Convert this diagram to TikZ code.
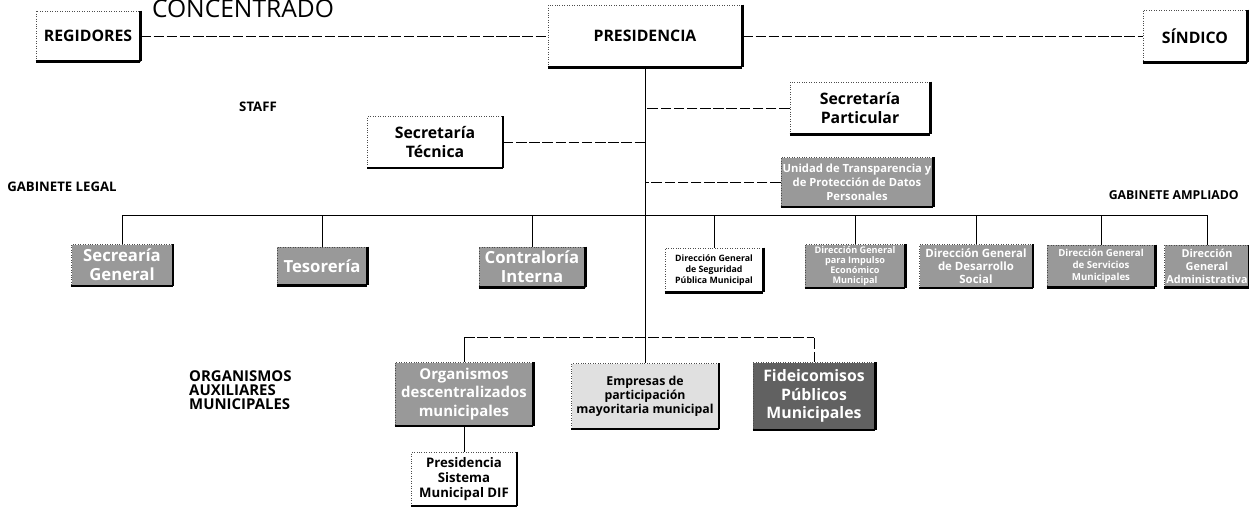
\documentclass[tikz,border=0pt]{standalone}
\usepackage{fontspec}
\setmainfont{Open Sans}
\newcommand{\fsz}[2]{\fontsize{#1}{#2}\selectfont}

\tikzset{
  sz/.style 2 args={minimum width=#1*0.02cm, minimum height=#2*0.02cm},
  orgbox/.style={draw=black!70, densely dotted, inner sep=1pt, align=center,
    font=\bfseries\fsz{9}{11},
    append after command={
      (\tikzlastnode.north east) edge[solid, line width=1.4pt] (\tikzlastnode.south east)
      (\tikzlastnode.south west) edge[solid, line width=1.4pt] (\tikzlastnode.south east)}},
  shadedbox/.style={orgbox, fill=black!40, text=white},
  lightbox/.style={orgbox, fill=black!12},
  tag/.style={font=\bfseries\fsz{7.5}{8.5}},
  linkline/.style={thin, dash pattern=on 6pt off 1.5pt},
  trunkline/.style={thin}
}

\begin{document}
\begin{tikzpicture}[x=0.02cm, y=-0.02cm]
  \useasboundingbox (0,0) rectangle (1249,507);
  \clip (0,0) rectangle (1249,507);

  % Top row
  \node[orgbox, sz={104}{50}] (regidores) at (88,36) {REGIDORES};
  \node[orgbox, sz={194}{62}] (presidencia) at (645,36) {PRESIDENCIA};
  \node[orgbox, sz={104}{52}] (sindico) at (1195,36) {SÍNDICO};
  \node[font=\fsz{14}{14}] (concentrado) at (243,9) {CONCENTRADO};

  \draw[linkline] (regidores.east) -- (presidencia.west);
  \draw[linkline] (presidencia.east) -- (sindico.west);

  % Staff
  \node[tag] (staff) at (258,107) {STAFF};
  \node[orgbox, sz={135}{51}] (stecnica) at (435,142) {Secretaría\\Técnica};
  \node[orgbox, sz={140}{52}] (sparticular) at (860,108) {Secretaría\\Particular};
  \node[shadedbox, sz={151}{49}, font=\bfseries\fsz{6.4}{8}] (unidad) at (857,182)
    {Unidad de Transparencia y\\de Protección de Datos\\Personales};

  % Gabinete legal and gabinete ampliado
  \node[tag] (gablegal) at (62,187) {GABINETE LEGAL};
  \node[tag, font=\bfseries\fsz{7}{8}, anchor=east] (gabampliado) at (1245,195) {GABINETE AMPLIADO};
  \node[shadedbox, sz={101}{41}, font=\bfseries\fsz{9.5}{11}] (sgeneral) at (122,265) {Secrearía\\General};
  \node[shadedbox, sz={90}{38}, font=\bfseries\fsz{9.5}{11}] (tesoreria) at (322,266) {Tesorería};
  \node[shadedbox, sz={106}{40}, font=\bfseries\fsz{9.5}{11}] (contraloria) at (532,267) {Contraloría\\Interna};
  \node[orgbox, sz={98}{44}, font=\bfseries\fsz{5}{6.2}] (dgseguridad) at (714,270)
    {Dirección General\\de Seguridad\\Pública Municipal};
  \node[shadedbox, sz={100}{43}, font=\bfseries\fsz{5.2}{5.7}] (dgimpulso) at (855,266)
    {Dirección General\\para Impulso\\Económico\\Municipal};
  \node[shadedbox, sz={113}{43}, font=\bfseries\fsz{6.5}{7.4}] (dgsocial) at (976,266)
    {Dirección General\\de Desarrollo\\Social};
  \node[shadedbox, sz={108}{42}, font=\bfseries\fsz{5.5}{6.8}] (dgservicios) at (1101,266)
    {Dirección General\\de Servicios\\Municipales};
  \node[shadedbox, sz={80}{42}, font=\bfseries\fsz{6.2}{7.4}] (dgadmin) at (1207,266)
    {Dirección\\General\\Administrativa};

  % Organismos auxiliares municipales
  \node[tag, font=\bfseries\fsz{8.5}{8}, align=left, anchor=west] (auxiliares) at (183,390)
    {ORGANISMOS\\AUXILIARES\\MUNICIPALES};
  \node[shadedbox, sz={138}{63}, font=\bfseries\fsz{8.5}{10.5}] (orgdesc) at (464,394)
    {Organismos\\descentralizados\\municipales};
  \node[lightbox, sz={147}{65}, font=\bfseries\fsz{7}{8}] (empresas) at (645,396)
    {Empresas de\\participación\\mayoritaria municipal};
  \node[shadedbox, fill=black!62, sz={122}{67}, font=\bfseries\fsz{9}{10.5}] (fideicomisos) at (814,396)
    {Fideicomisos\\Públicos\\Municipales};
  \node[orgbox, sz={105}{54}, font=\bfseries\fsz{7.5}{8.5}] (dif) at (464,479)
    {Presidencia\\Sistema\\Municipal DIF};

  % Trunk from presidencia
  \draw[trunkline] (presidencia.south) -- (empresas.north);

  % Staff links to trunk
  \draw[linkline] (stecnica.east) -- (stecnica.east -| presidencia.south);
  \draw[linkline] (sparticular.west) -- (sparticular.west -| presidencia.south);
  \draw[linkline] (unidad.west) -- (unidad.west -| presidencia.south);

  % Gabinete bus
  \coordinate (gabL) at (122,215);
  \draw[trunkline] (gabL) -- (gabL -| dgadmin.north);
  \foreach \n in {sgeneral,tesoreria,contraloria,dgseguridad,dgimpulso,dgsocial,dgservicios,dgadmin}
    \draw[trunkline] (\n.north) -- (\n.north |- gabL);

  % Organismos bus
  \coordinate (orgL) at (464,337);
  \draw[linkline] (orgL) -- (orgL -| fideicomisos.north);
  \draw[trunkline] (orgdesc.north) -- (orgL);
  \draw[linkline] (fideicomisos.north) -- (fideicomisos.north |- orgL);
  \draw[trunkline] (orgdesc.south) -- (dif.north);

\end{tikzpicture}
\end{document}
